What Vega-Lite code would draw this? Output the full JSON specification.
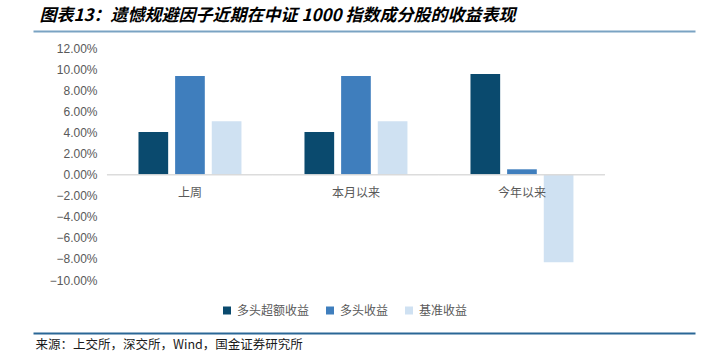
{
  "$schema": "https://vega.github.io/schema/vega-lite/v6.json",
  "width": 662,
  "height": 231.5,
  "autosize": {"type": "none"},
  "padding": {"left": 33, "top": 48.5, "right": 8, "bottom": 77},
  "background": "white",
  "config": {
    "view": {"stroke": null},
    "font": "Liberation Sans, Noto Sans CJK SC",
    "axisY": {"labelOverlap": false, "labelBound": false, "labelFlush": false, "tickCount": 20}
  },
  "data": {
    "values": [
      {"period": "上周", "series": "多头超额收益", "value": 0.0407},
      {"period": "上周", "series": "多头收益", "value": 0.0938},
      {"period": "上周", "series": "基准收益", "value": 0.0508},
      {"period": "本月以来", "series": "多头超额收益", "value": 0.0407},
      {"period": "本月以来", "series": "多头收益", "value": 0.0938},
      {"period": "本月以来", "series": "基准收益", "value": 0.0508},
      {"period": "今年以来", "series": "多头超额收益", "value": 0.0957},
      {"period": "今年以来", "series": "多头收益", "value": 0.0052},
      {"period": "今年以来", "series": "基准收益", "value": -0.0832}
    ]
  },
  "layer": [
    {
      "mark": {"type": "bar"},
      "encoding": {
        "x": {
          "field": "period", "type": "nominal", "sort": ["上周", "本月以来", "今年以来"],
          "scale": {"paddingInner": 0, "paddingOuter": 0.494, "align": 0.451},
          "axis": {
            "orient": "bottom", "offset": 53, "domainColor": "#2a6796", "domainWidth": 2,
            "labels": false, "ticks": false, "grid": false,
            "title": "来源：上交所，深交所，Wind，国金证券研究所",
            "titleX": 2, "titleY": 11, "titleAlign": "left", "titleBaseline": "middle",
            "titleFont": "Noto Sans CJK SC", "titleFontSize": 12.5, "titleFontWeight": "normal", "titleColor": "#1a1a1a"
          }
        },
        "xOffset": {
          "field": "series", "type": "nominal", "sort": ["多头超额收益", "多头收益", "基准收益"],
          "scale": {"paddingInner": 0.19, "paddingOuter": 0.86}
        },
        "y": {
          "field": "value", "type": "quantitative",
          "scale": {"domain": [-0.1, 0.12], "nice": false},
          "axis": {
            "format": ".2%", "values": [-0.1, -0.08, -0.06, -0.04, -0.02, 0, 0.02, 0.04, 0.06, 0.08, 0.1, 0.12],
            "labelOverlap": false, "tickCount": 20,
            "offset": -74, "domain": false, "ticks": false, "grid": false, "labelPadding": 10,
            "labelFontSize": 12, "labelColor": "#595959", "labelFont": "Liberation Sans", "title": null
          }
        },
        "color": {
          "field": "series", "type": "nominal",
          "scale": {"domain": ["多头超额收益", "多头收益", "基准收益"], "range": ["#0a4a6e", "#3f7ebd", "#cfe1f2"]},
          "legend": {
            "orient": "none", "legendX": 188, "legendY": 256, "direction": "horizontal", "title": null,
            "symbolType": "square", "symbolSize": 64, "symbolStrokeWidth": 0,
            "labelFontSize": 12, "labelColor": "#595959", "labelFont": "Noto Sans CJK SC",
            "columnPadding": 14, "labelOffset": 4
          }
        }
      }
    },
    {
      "mark": {"type": "bar", "fillOpacity": 0, "stroke": "#d9d9d9", "strokeWidth": 1},
      "transform": [{"filter": "datum.series === '多头超额收益'"}],
      "encoding": {
        "x": {"field": "period", "type": "nominal", "sort": ["上周", "本月以来", "今年以来"], "axis": null},
        "y": {"datum": 0},
        "y2": {"datum": 0}
      }
    },
    {
      "mark": {"type": "text", "dy": 18, "fontSize": 12, "color": "#595959", "baseline": "middle", "font": "Noto Sans CJK SC"},
      "transform": [{"filter": "datum.series === '多头超额收益'"}],
      "encoding": {
        "x": {
          "field": "period", "type": "nominal", "sort": ["上周", "本月以来", "今年以来"],
          "axis": {
            "orient": "top", "offset": 17.5, "domainColor": "#7aa3c3", "domainWidth": 2,
            "labels": false, "ticks": false, "grid": false,
            "title": "图表13：遗憾规避因子近期在中证 1000 指数成分股的收益表现",
            "titleX": 6, "titleY": -16, "titleAlign": "left", "titleBaseline": "middle",
            "titleFont": "Noto Sans CJK SC", "titleFontSize": 17, "titleFontWeight": "bold",
            "titleFontStyle": "italic", "titleColor": "#000000"
          }
        },
        "y": {"datum": 0},
        "text": {"field": "period"}
      }
    }
  ],
  "resolve": {"axis": {"x": "independent"}}
}
